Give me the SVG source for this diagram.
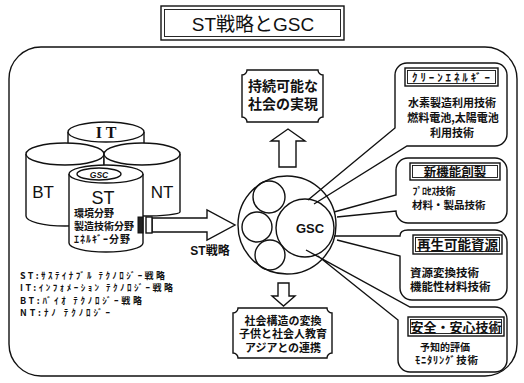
<svg xmlns="http://www.w3.org/2000/svg" width="524" height="383" viewBox="0 0 524 383">
<style>
.ln{fill:none;stroke:#111;stroke-width:1.4}
.wf{fill:#fff;stroke:#111;stroke-width:1.4}
.thin{fill:none;stroke:#111;stroke-width:0.9}
.t{font-family:"Liberation Sans","Noto Sans CJK JP",sans-serif;fill:#111}
.jp{font-family:"Noto Sans CJK JP",sans-serif;fill:#111;font-weight:bold}
.c{text-anchor:middle}
</style>
<rect width="524" height="383" fill="#fff"/>

<g id="title">
<rect x="161" y="6" width="183" height="34" class="ln" stroke-width="1.8"/>
<rect x="164.5" y="9.5" width="176" height="27" class="thin"/>
<text x="253" y="31" class="t c" font-size="19">ST戦略とGSC</text>
</g>

<g id="frame">
<rect x="9" y="47" width="508" height="329" rx="32" class="ln" stroke-width="1.6"/>
</g>

<g id="node-it">
<path d="M68,132 V190 A38,10 0 0 0 144,190 V132" class="wf"/>
<ellipse cx="106" cy="132" rx="38" ry="10" class="wf"/>
<text x="106" y="138" font-family="Liberation Serif,serif" font-size="16" font-weight="bold" class="c" fill="#111">I T</text>
</g>

<g id="node-bt">
<path d="M26,154 V216 A39,10 0 0 0 104,216 V154" class="wf"/>
<ellipse cx="65" cy="154" rx="39" ry="11" class="wf"/>
<text x="43" y="198" class="t c" font-size="17">BT</text>
</g>

<g id="node-nt">
<path d="M104,154 V212 A38,4 0 0 0 180,212 V154" class="wf"/>
<ellipse cx="142" cy="154" rx="38" ry="11" class="wf"/>
<text x="162" y="198" class="t c" font-size="17">NT</text>
</g>

<g id="node-st">
<path d="M69,174 V243 A37,9 0 0 0 143,243 V174" class="wf"/>
<ellipse cx="106" cy="174" rx="37" ry="9" class="wf"/>
<ellipse cx="99" cy="174" rx="22" ry="6" class="wf" stroke-width="1.8"/>
<text x="99" y="177.5" class="t c" font-size="8.5" font-weight="bold" font-style="italic">GSC</text>
<text x="103" y="204" class="t c" font-size="18">ST</text>
<text x="74" y="217" class="jp" font-size="10">環境分野</text>
<text x="74" y="230" class="jp" font-size="10">製造技術分野</text>
<text x="74" y="243" class="jp" font-size="10" textLength="56">ｴﾈﾙｷﾞｰ分野</text>
</g>

<g id="legend">
<text x="20" y="279" class="jp" font-size="9" textLength="145">ST:ｻｽﾃｲﾅﾌﾞﾙ ﾃｸﾉﾛｼﾞｰ戦略</text>
<text x="20" y="291.3" class="jp" font-size="9" textLength="153">IT:ｲﾝﾌｫﾒｰｼｮﾝ  ﾃｸﾉﾛｼﾞｰ戦略</text>
<text x="20" y="303.6" class="jp" font-size="9" textLength="122">BT:ﾊﾞｲｵ ﾃｸﾉﾛｼﾞｰ戦略</text>
<text x="20" y="315.9" class="jp" font-size="9" textLength="90">NT:ﾅﾉ ﾃｸﾉﾛｼﾞｰ</text>
</g>

<g id="connectors">
<path id="st-arrow" d="M152,218 H207 V210 L235,225 L207,240 V232 H152 Z" class="wf"/>
<rect x="138" y="217" width="5" height="16" fill="#222" stroke="#111"/>
<rect x="146" y="217" width="6" height="16" class="wf"/>
<path id="up-arrow" d="M279,167 V141 H271 L288,129 L305,141 H296 V167 Z" class="wf"/>
<path id="down-arrow" d="M278,283 H289 V296 H295 L283.5,306 L272,296 H278 Z" class="wf"/>
</g>
<text x="210" y="255" class="t c" font-size="12" font-weight="bold">ST戦略</text>

<g id="node-gsc">
<circle cx="287" cy="225" r="49" class="wf"/>
<circle cx="269" cy="197" r="16" class="ln"/>
<circle cx="257" cy="227" r="15" class="ln"/>
<circle cx="270" cy="255" r="15" class="ln"/>
<circle cx="305" cy="228" r="29" class="ln"/>
<text x="310" y="233" class="t c" font-size="13" font-weight="bold">GSC</text>
</g>

<g id="node-sustainable">
<path d="M247,70 H318 A5,5 0 0 0 323,75 V117 A5,5 0 0 0 318,122 H247 A5,5 0 0 0 242,117 V75 A5,5 0 0 0 247,70 Z" class="wf" stroke-width="1.6"/>
<text x="283" y="91" class="jp c" font-size="14">持続可能な</text>
<text x="283" y="109" class="jp c" font-size="14">社会の実現</text>
</g>

<g id="node-society">
<path d="M238,308 H327 A5,5 0 0 0 332,313 V353 A5,5 0 0 0 327,358 H238 A5,5 0 0 0 233,353 V313 A5,5 0 0 0 238,308 Z" class="wf" stroke-width="1.6"/>
<text x="283" y="324.5" class="jp c" font-size="11">社会構造の変換</text>
<text x="283" y="338" class="jp c" font-size="11">子供と社会人教育</text>
<text x="283" y="351.5" class="jp c" font-size="11">アジアとの連携</text>
</g>

<g id="node-clean-energy">
<path d="M308,200 L395,128 V75 A12,12 0 0 1 407,63 H495 A12,12 0 0 1 507,75 V134 A12,12 0 0 1 495,146 H407 L314,204" class="ln"/>
<rect x="405" y="68" width="93" height="18" class="ln"/>
<rect x="407.5" y="70.5" width="88" height="13" class="thin"/>
<text x="451" y="81.5" class="jp c" font-size="11" textLength="78">ｸﾘｰﾝｴﾈﾙｷﾞｰ</text>
<text x="452" y="107" class="jp c" font-size="11">水素製造利用技術</text>
<text x="453" y="122" class="jp c" font-size="11">燃料電池,太陽電池</text>
<text x="452" y="137" class="jp c" font-size="11">利用技術</text>
</g>

<g id="node-new-function">
<path d="M334,212 L396,195 V170 A12,12 0 0 1 408,158 H495 A12,12 0 0 1 507,170 V211 A12,12 0 0 1 495,223 H408 A12,12 0 0 1 396,211 L337,217" class="ln"/>
<rect x="410" y="163" width="90" height="17" class="ln"/>
<rect x="412.5" y="165.5" width="85" height="12" class="thin"/>
<text x="455" y="176.5" class="jp c" font-size="12.5">新機能創製</text>
<text x="412" y="195" class="jp" font-size="10" textLength="43">ﾌﾟﾛｾｽ技術</text>
<text x="412" y="209" class="jp" font-size="10.5">材料・製品技術</text>
</g>

<g id="node-renewable">
<path d="M334,236 L400,236 Q400,230 408,230 H495 A12,12 0 0 1 507,242 V288 A12,12 0 0 1 495,300 H412 A12,12 0 0 1 400,288 V256 L337,240" class="ln"/>
<rect x="413" y="235" width="89" height="19" class="ln"/>
<rect x="415.5" y="237.5" width="84" height="14" class="thin"/>
<text x="457.5" y="249.5" class="jp c" font-size="13.5">再生可能資源</text>
<text x="410" y="277" class="jp" font-size="11.5">資源変換技術</text>
<text x="410" y="291" class="jp" font-size="11.5">機能性材料技術</text>
</g>

<g id="node-safety">
<path d="M306,250 L410,307 H495 A12,12 0 0 1 507,319 V360 A12,12 0 0 1 495,372 H410 A12,12 0 0 1 398,360 V320 L318,256" class="ln"/>
<rect x="408" y="317" width="96" height="19" class="ln"/>
<rect x="410.5" y="319.5" width="91" height="14" class="thin"/>
<text x="456" y="331.5" class="jp c" font-size="13">安全・安心技術</text>
<text x="420" y="351" class="jp" font-size="10">予知的評価</text>
<text x="415" y="364" class="jp" font-size="10.5" textLength="63">ﾓﾆﾀﾘﾝｸﾞ技術</text>
</g>
</svg>
